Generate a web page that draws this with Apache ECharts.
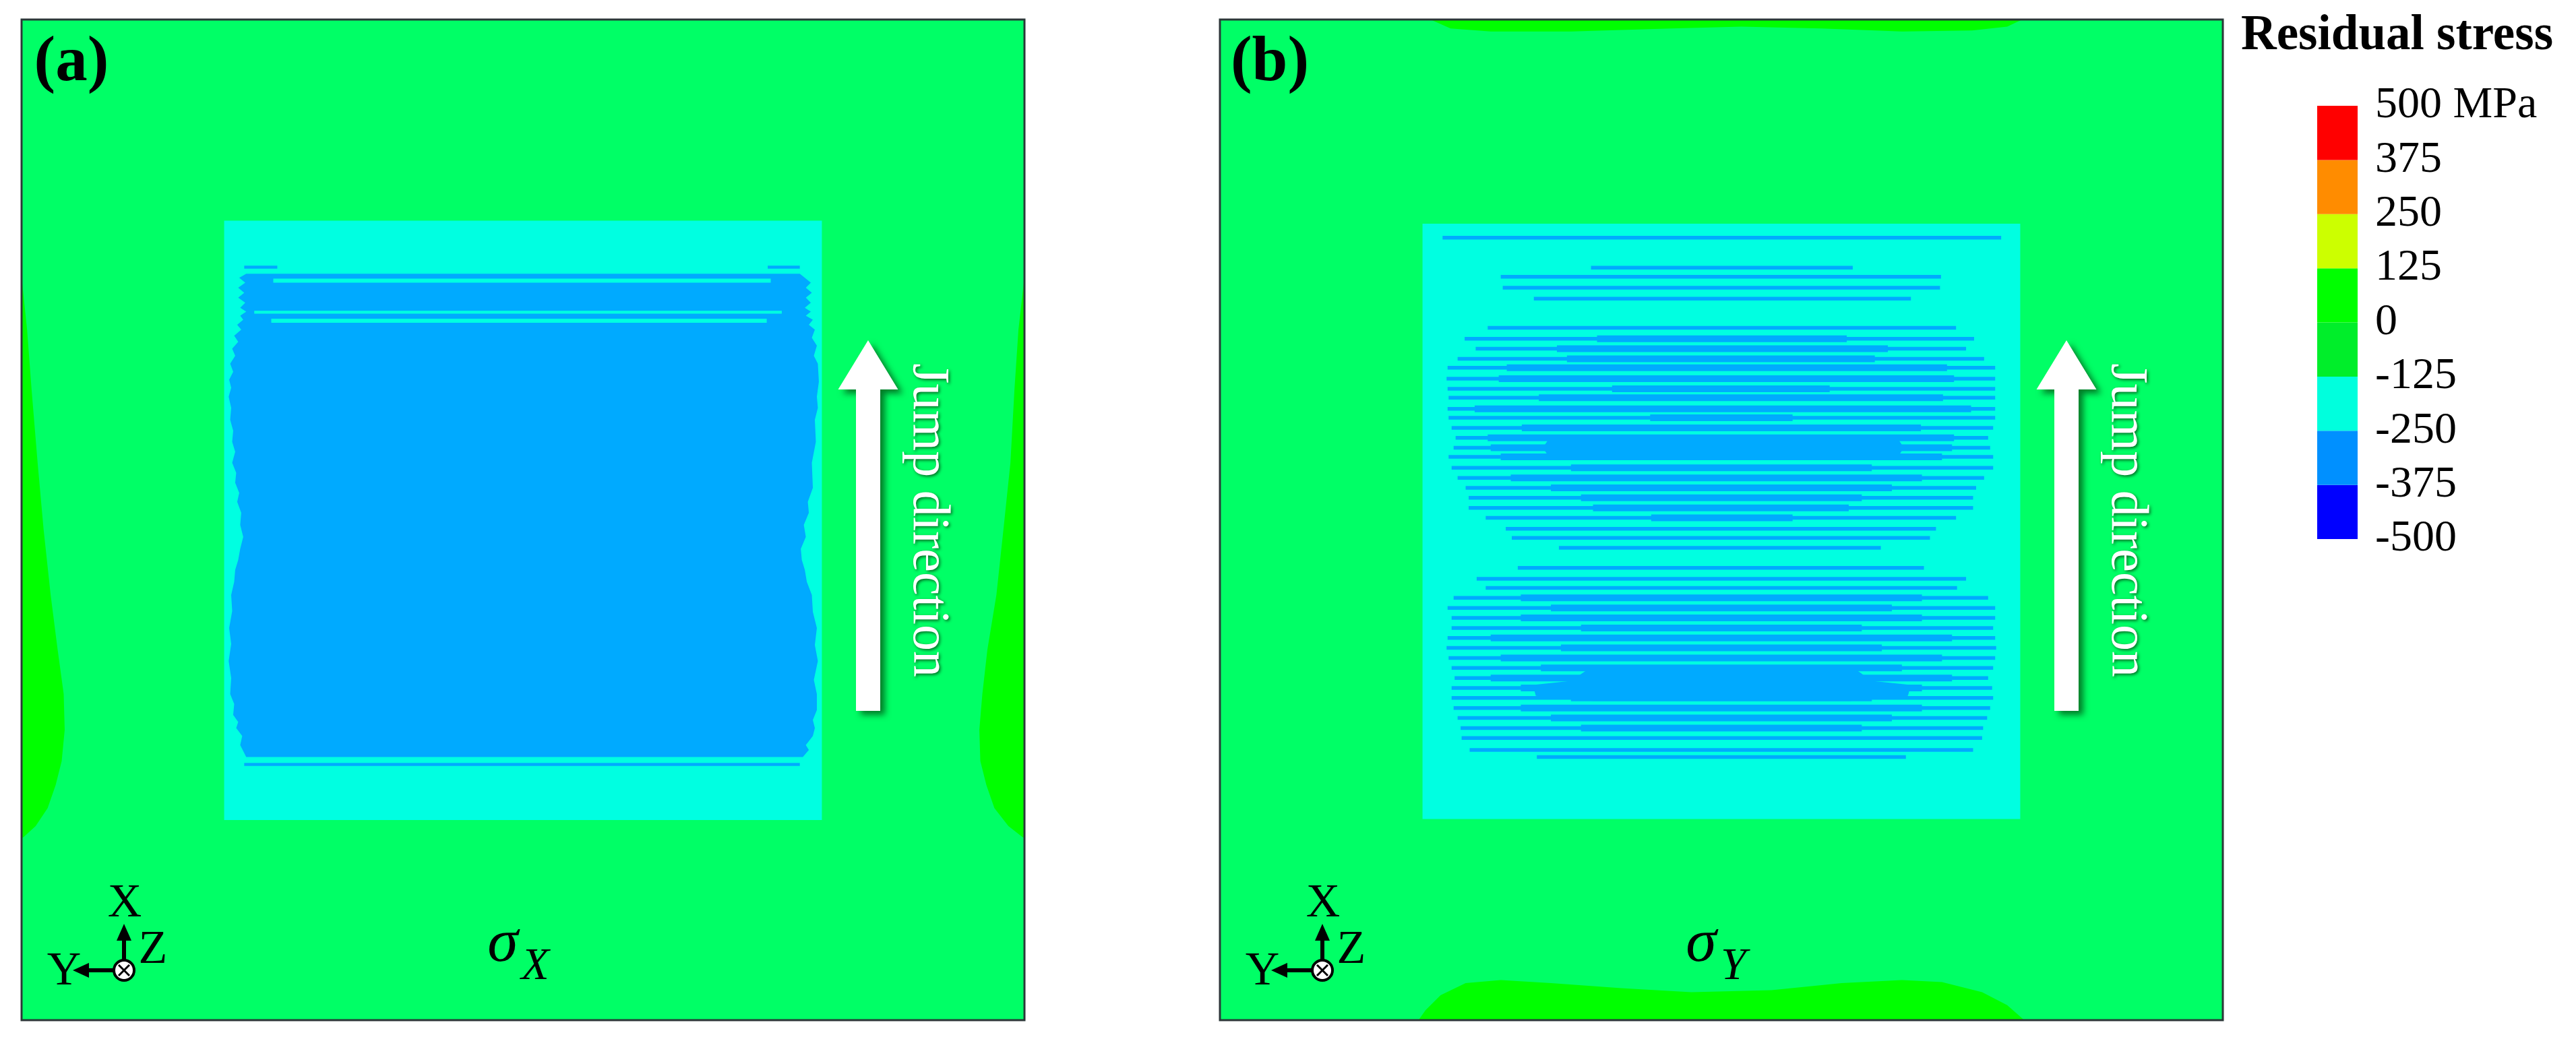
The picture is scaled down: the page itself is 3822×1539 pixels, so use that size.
<!DOCTYPE html>
<html>
<head>
<meta charset="utf-8">
<script src="https://cdn.jsdelivr.net/npm/echarts@6/dist/echarts.min.js"></script>
<style>html,body{margin:0;padding:0;background:#fff}#c{width:3822px;height:1539px}</style>
</head>
<body>
<div id="c"></div>
<script>
// ================= DATA =================
// contour levels of the colour legend (MPa)
const contourLevels = [-500, -375, -250, -125, 0, 125, 250, 375, 500];
const legendTitle = 'Residual stress';
const legendUnit = 'MPa';
const panelLabels = ['(a)', '(b)'];
const stressComponents = ['X', 'Y'];
const jumpLabel = 'Jump direction';
const triadLabels = ['X', 'Y', 'Z'];

// representative stress of each contour band (MPa)
const bandStress = { field: -60, edge: 60, scan: -190, core: -310 };

// ---- panel (a) sigma_X, coordinates in % of specimen (x right, y down) ----
const aLeftBlob = [[0,25.7],[0.55,31],[1.0,37],[1.6,44.3],[2.2,51],[2.9,57.5],[3.6,63],[4.2,67.4],[4.3,71],[4.0,74.1],[3.4,76.5],[2.6,78.8],[1.4,80.6],[0.2,81.7],[0,81.8]];
const aRightBlob = [[100,25.7],[99.4,31],[99.0,37],[98.6,44.3],[97.9,51],[97.2,57.5],[96.3,63],[95.8,67.4],[95.5,71],[95.6,74.1],[96.2,76.5],[97.0,78.8],[98.4,80.6],[99.8,81.7],[100,81.8]];
const aScanArea = [20.2, 79.8, 20.1, 80.0];               // [x0,x1,y0,y1]
const aCoreLeft = [[22.4,25.4],[21.7,25.8],[22.3,26.3],[21.6,26.8],[22.2,27.3],[21.6,27.8],[22.3,28.3],[21.8,28.8],[22.4,29.2],[21.8,29.6],[22.1,30.0],[21.5,30.5],[21.9,31.0],[21.2,31.6],[21.6,32.2],[21.0,32.9],[21.3,33.6],[20.8,34.4],[21.1,35.2],[20.7,36.0],[20.9,36.8],[20.65,37.7],[20.9,38.8],[20.8,40.0],[21.1,41.1],[21.0,42.2],[21.3,43.2],[21.0,44.3],[21.4,45.3],[21.3,46.3],[21.7,47.3],[21.5,48.2],[21.9,49.3],[21.8,50.5],[22.1,51.7],[21.8,52.9],[21.6,54.0],[21.3,55.0],[21.2,56.2],[20.9,57.5],[21.0,59.1],[20.7,60.8],[20.9,62.4],[20.65,64.1],[20.9,65.8],[20.8,67.4],[21.2,68.4],[21.1,69.5],[21.6,70.2],[21.4,70.8],[22.0,71.6],[21.8,72.5],[22.4,73.7]];
const aCoreRight = [[77.9,73.7],[78.5,73.0],[78.2,72.5],[78.9,71.6],[79.1,70.8],[78.9,70.0],[79.3,69.0],[79.3,67.4],[79.0,66.0],[79.4,64.1],[79.1,62.5],[79.3,60.8],[78.9,59.2],[78.8,57.5],[78.3,56.2],[78.1,55.0],[77.8,54.0],[77.7,52.9],[78.2,51.7],[78.0,50.5],[78.5,49.3],[78.4,48.2],[78.9,46.8],[78.8,44.3],[79.2,42.2],[79.1,40.0],[79.4,38.8],[79.3,37.7],[79.5,36.2],[79.4,34.4],[79.0,33.6],[79.3,32.6],[78.8,31.8],[79.1,31.0],[78.5,30.5],[78.9,30.0],[78.2,29.6],[78.7,29.2],[78.1,28.8],[78.7,28.3],[78.2,27.8],[78.8,27.3],[78.2,26.8],[78.7,26.3],[78.1,25.8],[77.6,25.4]];
const aCoreGaps = [[25.1,74.7,25.9,26.3],[23.2,75.8,29.1,29.4],[24.9,74.3,29.9,30.3]];   // scan-band gaps
const aThinLines = [[22.2,25.5,24.6,24.9],[74.4,77.6,24.6,24.9],[22.2,77.6,74.3,74.6]];

// ---- panel (b) sigma_Y ----
const bTopBlob = [[21.0,0],[23,0.9],[27,1.2],[35,1.2],[45,0.9],[52,0.7],[60,0.9],[68,1.2],[75,1.1],[78.5,0.7],[80,0]];
const bBottomBlob = [[19.8,100],[20.5,99.0],[22.0,97.5],[24.5,96.3],[28,96.0],[33,96.3],[40,96.8],[47,97.2],[55,97.0],[62,96.3],[68,96.0],[72,96.2],[76,97.2],[78.5,98.5],[80.2,100]];
const bScanArea = [20.2, 79.8, 20.4, 79.9];
const bUpperCore = [[33,41.6],[67.4,41.6],[68.2,42.8],[67.4,44.0],[33,44.0],[32.2,42.8]];
const bLowerCore = [[37.2,64.6],[62.9,64.6],[65,66.1],[68.9,66.5],[68.6,67.6],[62.9,68.1],[37.2,68.1],[31.5,67.6],[31.2,66.5],[35,66.1]];
// scan tracks with compressive band: [y, x0, x1, innerX0, innerX1]
const bTracks = [
 [21.8,22.2,77.9,0,0],[24.8,37.0,63.1,0,0],[25.7,28.0,71.9,0,0],[26.8,28.2,71.8,0,0],[27.9,31.3,68.9,0,0],
 [30.8,26.7,73.4,0,0],[31.9,24.4,75.2,37.6,62.5],[32.9,25.5,74.4,33.6,66.6],[33.9,23.7,76.2,34.6,65.3],
 [34.8,22.7,77.3,28.6,72.5],[35.9,22.6,77.3,27.8,73.2],[36.9,22.7,77.3,39.1,60.8],[37.8,22.8,77.3,31.8,72.1],
 [38.9,22.7,77.3,25.4,74.9],[39.8,22.8,77.3,42.9,57.1],[40.8,23.1,77.1,30.1,69.9],[41.8,23.5,76.6,26.7,73.2],
 [42.8,23.3,76.8,27.0,73.0],[43.7,22.8,77.1,28.0,72.0],[44.8,23.1,77.1,35.0,65.0],[45.8,23.7,76.2,29.0,70.0],
 [46.8,24.5,75.4,33.0,67.0],[47.8,24.8,75.1,36.0,64.0],[48.8,24.8,75.1,37.2,62.7],[49.8,26.5,73.4,43.0,57.1],
 [50.9,28.5,71.4,0,0],[51.8,29.1,70.8,0,0],[52.8,33.8,65.9,0,0],
 [54.8,29.7,70.2,0,0],[55.9,25.6,74.4,0,0],[56.8,26.5,73.5,0,0],[57.8,23.3,76.6,30.0,70.0],
 [58.8,22.7,77.3,33.0,67.0],[59.8,23.1,77.3,30.0,70.0],[60.8,23.1,77.1,36.0,64.0],[61.8,22.7,77.3,27.0,73.0],
 [62.8,22.6,77.4,34.0,66.0],[63.8,22.8,77.3,28.0,72.0],[64.8,23.1,77.1,32.0,68.0],[65.8,23.4,76.6,27.0,73.0],
 [66.8,23.1,77.0,30.0,70.0],[67.8,23.1,77.1,35.0,65.0],[68.8,23.3,76.8,30.0,70.0],[69.8,23.7,76.5,33.0,67.0],
 [70.8,24.0,76.1,36.0,64.0],[71.8,24.1,76.0,0,0],[73.0,24.9,75.1,0,0],[73.7,31.6,68.4,0,0]
];

// ================= STYLE / LAYOUT =================
const FONT = "'Liberation Serif','Times New Roman',serif";
const PANEL_LEFT = [32, 1810], PANEL_TOP = 29, PANEL_W = 1488, PANEL_H = 1485;
const legendColors = ['#0000FF','#0090FF','#00FFDD','#00EE2A','#00FF00','#CCFF00','#FF8C00','#FF0000'];
function panelFill(s) {
  if (s >= 0) return '#00FF00';
  if (s >= -125) return '#00FF66';
  if (s >= -250) return '#00FFE1';
  if (s >= -375) return '#00AAFF';
  return '#0000FF';
}
const rectPts = r => [[r[0], r[2]], [r[1], r[2]], [r[1], r[3]], [r[0], r[3]]];
const full = [[0,0],[100,0],[100,100],[0,100]];

const regionsA = [
  { pts: full, stress: bandStress.field },
  { pts: aLeftBlob, stress: bandStress.edge },
  { pts: aRightBlob, stress: bandStress.edge },
  { pts: rectPts(aScanArea), stress: bandStress.scan },
  { pts: aCoreLeft.concat(aCoreRight), stress: bandStress.core }
].concat(aCoreGaps.map(r => ({ pts: rectPts(r), stress: bandStress.scan })))
 .concat(aThinLines.map(r => ({ pts: rectPts(r), stress: bandStress.core })));

const regionsB = [
  { pts: full, stress: bandStress.field },
  { pts: bTopBlob, stress: bandStress.edge },
  { pts: bBottomBlob, stress: bandStress.edge },
  { pts: rectPts(bScanArea), stress: bandStress.scan },
  { pts: bUpperCore, stress: bandStress.core },
  { pts: bLowerCore, stress: bandStress.core }
];

function regionSeries(regions, gi) {
  return {
    type: 'custom', xAxisIndex: gi, yAxisIndex: gi, silent: true,
    data: regions.map(r => [r.stress]),
    renderItem: (params, api) => {
      const r = regions[params.dataIndex];
      return { type: 'polygon', shape: { points: r.pts.map(p => api.coord(p)) },
               style: { fill: panelFill(r.stress) } };
    }
  };
}

const trackSeries = {
  type: 'custom', xAxisIndex: 1, yAxisIndex: 1, silent: true,
  data: bTracks,
  renderItem: (params, api) => {
    const y = api.value(0), x0 = api.value(1), x1 = api.value(2), i0 = api.value(3), i1 = api.value(4);
    const a = api.coord([x0, y]), b = api.coord([x1, y]);
    const fill = panelFill(bandStress.core);
    const ch = [{ type: 'rect', shape: { x: a[0], y: a[1] - 2.75, width: b[0] - a[0], height: 5.5 }, style: { fill } }];
    if (i1 > i0) {
      const c = api.coord([i0, y]), d = api.coord([i1, y]);
      ch.push({ type: 'rect', shape: { x: c[0], y: c[1] - 5, width: d[0] - c[0], height: 10 }, style: { fill } });
    }
    return { type: 'group', children: ch };
  }
};

const legendSegments = contourLevels.slice(0, -1).map((lo, i) => [lo, contourLevels[i + 1]]);
const legendSeries = {
  type: 'custom', xAxisIndex: 2, yAxisIndex: 2, silent: true,
  data: legendSegments,
  renderItem: (params, api) => {
    const p0 = api.coord([0, api.value(1)]), p1 = api.coord([1, api.value(0)]);
    return { type: 'rect', shape: { x: p0[0], y: p0[1], width: p1[0] - p0[0], height: p1[1] - p0[1] },
             style: { fill: legendColors[params.dataIndex] } };
  }
};

// ---------- annotations ----------
function decor(i) {
  const L = PANEL_LEFT[i];
  const els = [];
  els.push({ type: 'rect', z: 100, shape: { x: L, y: PANEL_TOP, width: PANEL_W, height: PANEL_H },
             style: { fill: 'none', stroke: '#2b3838', lineWidth: 3 } });
  els.push({ type: 'text', z: 100, style: { x: L + 74, y: 94, text: panelLabels[i], font: 'bold 95px ' + FONT,
             fill: '#000', align: 'center', verticalAlign: 'middle' } });
  // jump direction arrow
  const cx = L + 1256;
  els.push({ type: 'polygon', z: 100, shape: { points: [[cx, 505], [cx + 44.5, 578], [cx + 18, 578], [cx + 18, 1055],
             [cx - 18, 1055], [cx - 18, 578], [cx - 44.5, 578]] },
             style: { fill: '#ffffff', shadowColor: 'rgba(0,80,20,0.75)', shadowBlur: 10, shadowOffsetX: 7, shadowOffsetY: 6 } });
  els.push({ type: 'text', z: 100, x: L + 1344, y: 772, rotation: -Math.PI / 2,
             style: { x: 0, y: 0, text: jumpLabel, font: '78px ' + FONT, fill: '#ffffff', align: 'center', verticalAlign: 'middle',
                      textShadowColor: 'rgba(0,70,20,0.8)', textShadowBlur: 4, textShadowOffsetX: 2, textShadowOffsetY: 2 } });
  // coordinate triad
  const ox = L + 152, oy = 1440;
  els.push({ type: 'line', z: 100, shape: { x1: ox, y1: oy - 14, x2: ox, y2: 1392 }, style: { stroke: '#000', lineWidth: 6 } });
  els.push({ type: 'polygon', z: 100, shape: { points: [[ox, 1371], [ox - 11, 1396], [ox + 11, 1396]] }, style: { fill: '#000' } });
  els.push({ type: 'line', z: 100, shape: { x1: ox - 14, y1: oy, x2: L + 97, y2: oy }, style: { stroke: '#000', lineWidth: 6 } });
  els.push({ type: 'polygon', z: 100, shape: { points: [[L + 76, oy], [L + 100, oy - 11], [L + 100, oy + 11]] }, style: { fill: '#000' } });
  els.push({ type: 'circle', z: 100, shape: { cx: ox, cy: oy, r: 15 }, style: { fill: '#fff', stroke: '#000', lineWidth: 4 } });
  els.push({ type: 'line', z: 101, shape: { x1: ox - 8, y1: oy - 8, x2: ox + 8, y2: oy + 8 }, style: { stroke: '#000', lineWidth: 3 } });
  els.push({ type: 'line', z: 101, shape: { x1: ox + 8, y1: oy - 8, x2: ox - 8, y2: oy + 8 }, style: { stroke: '#000', lineWidth: 3 } });
  const tf = '70px ' + FONT;
  els.push({ type: 'text', z: 100, style: { x: ox + 1, y: 1342, text: triadLabels[0], font: tf, fill: '#000', align: 'center', verticalAlign: 'middle' } });
  els.push({ type: 'text', z: 100, style: { x: L + 63, y: 1443, text: triadLabels[1], font: tf, fill: '#000', align: 'center', verticalAlign: 'middle' } });
  els.push({ type: 'text', z: 100, style: { x: ox + 43, y: 1411, text: triadLabels[2], font: tf, fill: '#000', align: 'center', verticalAlign: 'middle' } });
  // sigma label
  els.push({ type: 'text', z: 100, style: { x: L + 714, y: 1402, text: 'σ', font: 'italic 92px ' + FONT, fill: '#000', align: 'center', verticalAlign: 'middle' } });
  els.push({ type: 'text', z: 100, style: { x: L + 762, y: 1435, text: stressComponents[i], font: 'italic 68px ' + FONT, fill: '#000', align: 'center', verticalAlign: 'middle' } });
  return els;
}

const option = {
  animation: false,
  backgroundColor: '#ffffff',
  textStyle: { fontFamily: FONT },
  grid: [
    { left: PANEL_LEFT[0], top: PANEL_TOP, width: PANEL_W, height: PANEL_H, show: false },
    { left: PANEL_LEFT[1], top: PANEL_TOP, width: PANEL_W, height: PANEL_H, show: false },
    { left: 3438, top: 157, width: 60, height: 643, show: false }
  ],
  xAxis: [
    { gridIndex: 0, type: 'value', min: 0, max: 100, show: false },
    { gridIndex: 1, type: 'value', min: 0, max: 100, show: false },
    { gridIndex: 2, type: 'value', min: 0, max: 1, show: false }
  ],
  yAxis: [
    { gridIndex: 0, type: 'value', min: 0, max: 100, inverse: true, show: false },
    { gridIndex: 1, type: 'value', min: 0, max: 100, inverse: true, show: false },
    { gridIndex: 2, type: 'value', min: -500, max: 500, interval: 125, position: 'right',
      axisLine: { show: false }, axisTick: { show: false }, splitLine: { show: false },
      axisLabel: { show: true, margin: 26, color: '#000', fontSize: 66, fontFamily: FONT,
                   formatter: v => (v === contourLevels[contourLevels.length - 1] ? v + ' ' + legendUnit : String(v)) } }
  ],
  graphic: [
    { type: 'text', z: 100, style: { x: 3325, y: 54, text: legendTitle, font: 'bold 73px ' + FONT, fill: '#000', align: 'left', verticalAlign: 'middle' } }
  ].concat(decor(0), decor(1)),
  series: [regionSeries(regionsA, 0), regionSeries(regionsB, 1), trackSeries, legendSeries]
};

const chart = echarts.init(document.getElementById('c'), null, { renderer: 'canvas', width: 3822, height: 1539 });
chart.setOption(option);
</script>
</body>
</html>
